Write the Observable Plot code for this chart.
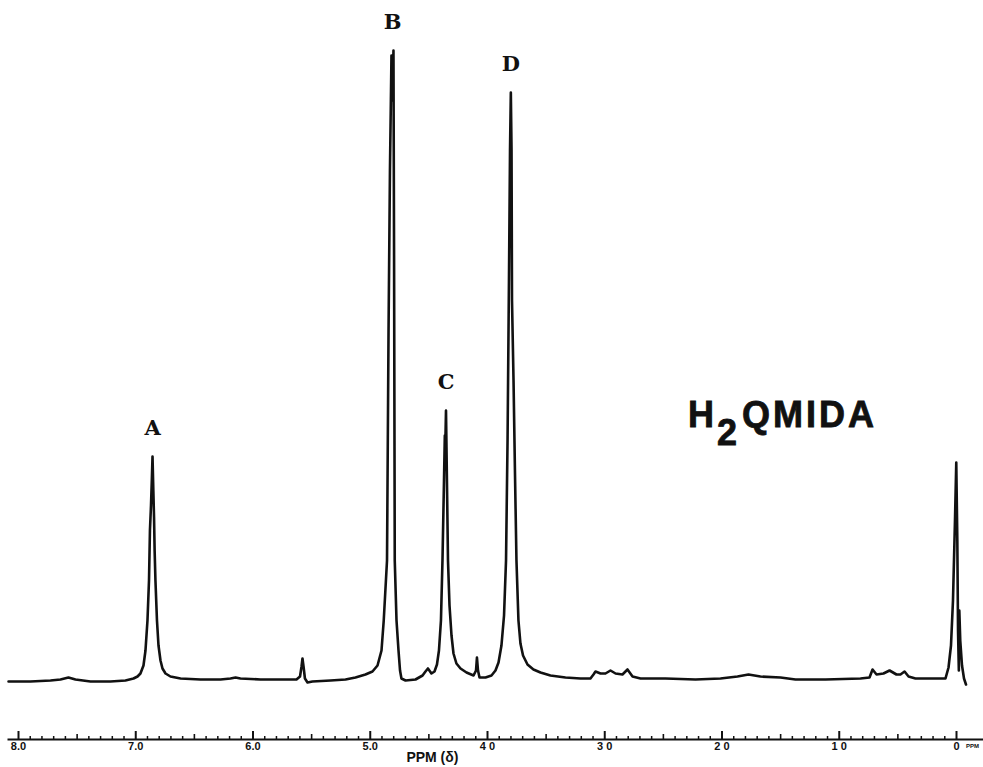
<!DOCTYPE html>
<html><head><meta charset="utf-8">
<script src="https://cdn.jsdelivr.net/npm/d3@7"></script>
<script src="https://cdn.jsdelivr.net/npm/@observablehq/plot@0.6"></script>
<style>html,body{margin:0;padding:0;background:#fff;} svg{display:block;}</style>
</head><body><div id="chart"></div>
<script>
// Chemical shift (ppm) and signal intensity
const ppm = [8.085, 7.898, 7.727, 7.642, 7.574, 7.514, 7.386, 7.216, 7.088, 7.019,
  6.985, 6.960, 6.934, 6.917, 6.900, 6.887, 6.879, 6.870, 6.863, 6.857,
  6.850, 6.844, 6.839, 6.832, 6.819, 6.806, 6.789, 6.772, 6.746, 6.704,
  6.618, 6.448, 6.277, 6.192, 6.149, 6.107, 5.936, 5.766, 5.629, 5.599,
  5.586, 5.578, 5.569, 5.557, 5.535, 5.493, 5.339, 5.211, 5.126, 5.041,
  4.981, 4.938, 4.904, 4.885, 4.857, 4.844, 4.832, 4.819, 4.810, 4.802,
  4.797, 4.791, 4.776, 4.759, 4.746, 4.734, 4.699, 4.614, 4.554, 4.529,
  4.508, 4.478, 4.452, 4.431, 4.414, 4.397, 4.384, 4.371, 4.364, 4.360,
  4.354, 4.346, 4.337, 4.324, 4.307, 4.290, 4.265, 4.230, 4.179, 4.119,
  4.098, 4.090, 4.081, 4.068, 4.017, 3.966, 3.932, 3.906, 3.881, 3.859,
  3.842, 3.829, 3.817, 3.808, 3.801, 3.795, 3.791, 3.778, 3.766, 3.753,
  3.736, 3.719, 3.697, 3.659, 3.608, 3.548, 3.463, 3.335, 3.207, 3.122,
  3.096, 3.079, 3.036, 2.994, 2.951, 2.908, 2.849, 2.806, 2.763, 2.695,
  2.482, 2.226, 2.013, 1.868, 1.774, 1.672, 1.501, 1.373, 1.117, 0.819,
  0.742, 0.716, 0.682, 0.623, 0.571, 0.512, 0.478, 0.443, 0.409, 0.350,
  0.179, 0.094, 0.068, 0.047, 0.030, 0.013, 0.002, -0.007, -0.013, -0.020,
  -0.024, -0.032, -0.047, -0.064, -0.081];
const intensity = [1, 1, 2, 3, 5, 3, 1, 1, 2, 4,
  6, 9, 17, 32, 62, 102, 152, 177, 202, 226,
  192, 165, 132, 102, 62, 37, 22, 14, 9, 6,
  4, 3, 3, 4, 5, 4, 3, 3, 3, 6,
  16, 24, 16, 4, 0, 1, 2, 3, 5, 8,
  11, 17, 32, 62, 122, 352, 512, 627, 582, 632,
  432, 122, 62, 32, 12, 4, 2, 3, 7, 11,
  14, 9, 11, 18, 32, 62, 122, 202, 247, 237,
  272, 202, 122, 77, 47, 29, 19, 14, 10, 7,
  12, 25, 12, 5, 5, 7, 12, 20, 37, 67,
  122, 242, 402, 532, 590, 532, 382, 302, 212, 122,
  62, 39, 27, 18, 13, 10, 7, 5, 4, 4,
  8, 11, 9, 9, 12, 9, 8, 13, 6, 4,
  4, 3, 4, 6, 8, 6, 5, 3, 3, 4,
  5, 13, 8, 9, 12, 8, 8, 11, 6, 4,
  4, 4, 15, 37, 82, 162, 220, 142, 52, 12,
  72, 42, 17, 4, -2];

const peakLabels = ["A", "B", "C", "D"];
const peakPpm = [6.857, 4.81, 4.354, 3.801];
const peakHeight = [226, 632, 272, 590];

const majorTicks = [8, 7, 6, 5, 4, 3, 2, 1, 0];
const majorTickLabels = ["8.0", "7.0", "6.0", "5.0", "4 0", "3 0", "2 0", "1 0", "0"];
const midTicks = [7.5, 6.5, 5.5, 4.5, 3.5, 2.5, 1.5, 0.5];
const minorTicks = d3.range(0, 81).map(i => i / 10)
  .filter(v => Math.abs(v * 2 - Math.round(v * 2)) > 1e-6);

const axisTitle = "PPM (δ)";
const axisTitlePpm = 4.47;
const unitLabel = "PPM";
const unitPpm = -0.136;

const compound = ["H", "2", "QMIDA"];
const compoundPpm = 2.286;
const compoundIntensity = 255;

const spectrum = ppm.map((p, i) => ({ppm: p, intensity: intensity[i]}));
const peaks = peakLabels.map((l, i) => ({label: l, ppm: peakPpm[i], h: peakHeight[i]}));

const W = 983, H = 767, MT = 0, MB = 28;
const frameH = H - MT - MB;

const chart = Plot.plot({
  width: W, height: H,
  marginLeft: 8, marginRight: 0, marginTop: MT, marginBottom: MB,
  style: {background: "#fff", color: "#111"},
  x: {domain: [8, 0], range: [18, 956], axis: null},
  y: {domain: [0, 632], range: [682, 50], axis: null},
  marks: [
    Plot.frame({anchor: "bottom", stroke: "#111", strokeWidth: 2}),
    Plot.ruleX(minorTicks, {x: d => d, insetTop: frameH - 3, stroke: "#111", strokeWidth: 1.5}),
    Plot.ruleX(midTicks, {x: d => d, insetTop: frameH - 5, stroke: "#111", strokeWidth: 1.6}),
    Plot.ruleX(majorTicks, {x: d => d, insetTop: frameH - 8, stroke: "#111", strokeWidth: 2}),
    Plot.text(majorTicks, {x: d => d, text: d => majorTickLabels[majorTicks.indexOf(d)],
      frameAnchor: "bottom", dy: 7, lineAnchor: "middle", fontSize: 11, fontWeight: "bold",
      fontFamily: "Liberation Sans, Arial, sans-serif", fill: "#111"}),
    Plot.text([axisTitle], {x: axisTitlePpm, text: d => d, frameAnchor: "bottom", dy: 18,
      lineAnchor: "middle", fontSize: 14, fontWeight: "bold",
      fontFamily: "Liberation Sans Narrow, Liberation Sans, Arial, sans-serif", fill: "#111"}),
    Plot.text([unitLabel], {x: unitPpm, text: d => d, frameAnchor: "bottom", dy: 7,
      lineAnchor: "middle", fontSize: 6, fontWeight: "bold",
      fontFamily: "Liberation Sans, Arial, sans-serif", fill: "#111"}),
    Plot.line(spectrum, {x: "ppm", y: "intensity", stroke: "#111", strokeWidth: 2.6,
      strokeLinejoin: "round", strokeLinecap: "round"}),
    Plot.text(peaks, {x: "ppm", y: "h", text: "label", dy: -28, lineAnchor: "middle",
      fontSize: 21, fontWeight: "bold", fontFamily: "DejaVu Serif", fill: "#111"})
  ]
});

// compound name with subscript, anchored in data coordinates
const sx = chart.scale("x"), sy = chart.scale("y");
const t = d3.select(chart).append("text")
  .attr("x", sx.apply(compoundPpm))
  .attr("y", sy.apply(compoundIntensity))
  .attr("text-anchor", "start")
  .attr("font-family", "Liberation Sans, Arial, sans-serif")
  .attr("font-weight", "bold")
  .attr("font-size", 36)
  .attr("letter-spacing", 3)
  .attr("fill", "#111")
  .attr("stroke", "#111")
  .attr("stroke-width", 0.8);
t.append("tspan").text(compound[0]);
t.append("tspan").attr("dy", 18).text(compound[1]);
t.append("tspan").attr("dy", -18).attr("dx", 2).text(compound[2]);

document.getElementById("chart").appendChild(chart);
</script>
</body></html>
